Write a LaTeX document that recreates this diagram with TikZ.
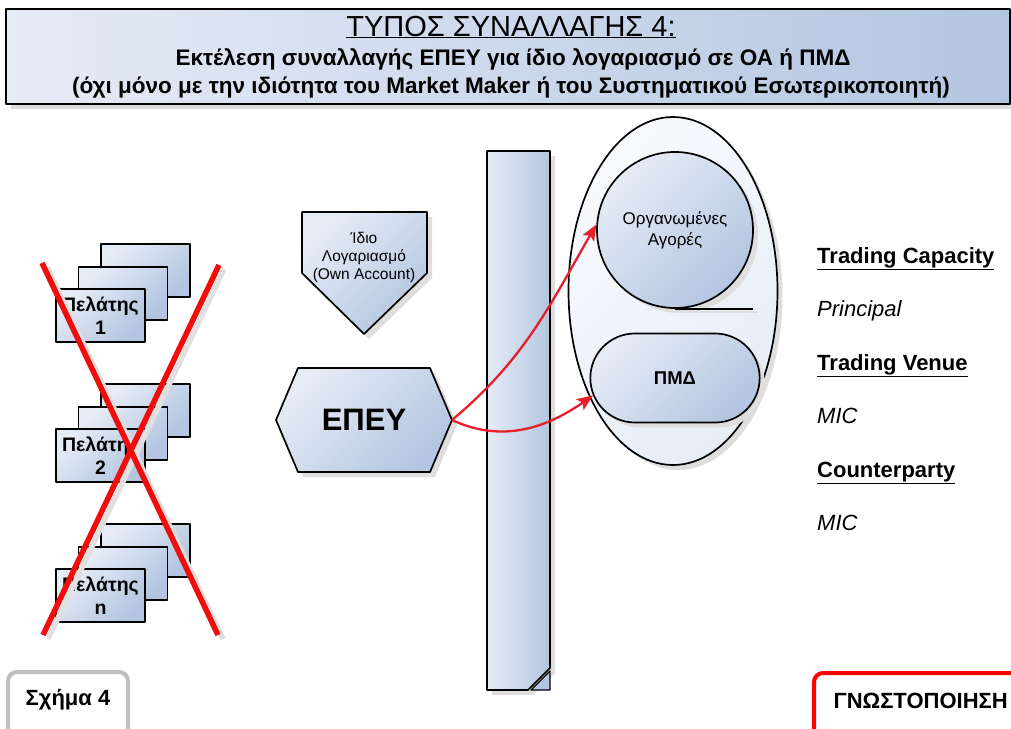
\documentclass[tikz,border=0pt]{standalone}
\usepackage{fontspec}
\setmainfont{Liberation Sans}
\usetikzlibrary{shapes.geometric,shapes.misc,shadows,arrows.meta}
\definecolor{boxlight}{HTML}{E6ECF6}
\definecolor{boxdark}{HTML}{B3C5E0}
\definecolor{elllight}{HTML}{F8FAFD}
\definecolor{elldark}{HTML}{E6EDF7}
\definecolor{xred}{HTML}{F20D0D}
\definecolor{arrred}{HTML}{E6202A}
\definecolor{framegray}{HTML}{BFBFBF}
\tikzset{
  gradbox/.style={draw=black,line width=1.7pt,top color=boxlight,bottom color=boxdark,shading angle=45},
  headbox/.style={draw=black,line width=2pt,left color=boxlight,right color=boxdark},
  shd/.style={drop shadow={shadow xshift=5pt,shadow yshift=-5pt,fill=black!13,opacity=1}},
  clientbox/.style={gradbox,minimum width=89pt,minimum height=53pt,inner sep=1pt},
  redarrow/.style={draw=arrred,line width=2.3pt,-{Stealth[length=16pt,width=13pt,inset=3.5pt]}},
  crossline/.style={draw=xred,line width=5.5pt},
  crossshd/.style={draw=black!12,line width=5.5pt},
  sidetxt/.style={anchor=base west,inner sep=0pt,font=\fontsize{22}{26}\selectfont},
}
\begin{document}
\begin{tikzpicture}[x=1pt,y=-1pt,line join=round]
\useasboundingbox (0,0) rectangle (1011,728);
\clip (0,0) rectangle (1011,728);
% header
\node[headbox,shd,anchor=north west,minimum width=1004pt,minimum height=95pt] (head) at (5,8) {};
\node[anchor=base,font=\fontsize{29}{34}\selectfont] (ttl) at (511,36) {\underline{ΤΥΠΟΣ ΣΥΝΑΛΛΑΓΗΣ 4:}};
\node[anchor=base,font=\fontsize{22.5}{27}\selectfont\bfseries] (sub1) at (513,65) {Εκτέλεση συναλλαγής ΕΠΕΥ για ίδιο λογαριασμό σε ΟΑ ή ΠΜΔ};
\node[anchor=base,font=\fontsize{22.5}{27}\selectfont\bfseries] (sub2) at (511,93) {(όχι μόνο με την ιδιότητα του Market Maker ή του Συστηματικού Εσωτερικοποιητή)};
% clients
\foreach \t/\lab in {289/1,429/2,569/n}{
  \node[clientbox] (back\lab) at (145.5,\t-18.5) {};
  \node[clientbox] (mid\lab) at (123,\t+4.5) {};
  \node[clientbox,align=center,font=\fontsize{19.5}{23}\selectfont\bfseries] (cl\lab) at (100.5,\t+26.5) {Πελάτης\\\lab};
}
% cross
\draw[crossshd] (47,267) -- (223,639);
\draw[crossshd] (224,269) -- (48,639);
\draw[crossline] (42,263) -- (218,635);
\draw[crossline] (219,265) -- (43,635);
% own account
\filldraw[gradbox,shd] (302,212) -- (427,212) -- (427,273) -- (364,334) -- (302,273) -- cycle;
\node[align=center,font=\fontsize{15.5}{18}\selectfont] (own) at (364,257) {Ίδιο\\Λογαριασμό\\(Own Account)};
% firm
\filldraw[gradbox,shd] (276,420) -- (298,368) -- (430,368) -- (452,420) -- (430,472) -- (298,472) -- cycle;
\node[font=\fontsize{31}{36}\selectfont\bfseries] (epey) at (364,420) {ΕΠΕΥ};
\coordinate (epeyR) at (452,420);
% bar
\filldraw[gradbox,shading angle=90,shd] (487,151) -- (550,151) -- (550,668) -- (528,690) -- (487,690) -- cycle;
\filldraw[draw=black,line width=1.2pt,fill=boxdark] (531,690) -- (550,671) -- (550,690) -- cycle;
% markets
\node[ellipse,draw=black,line width=1.7pt,top color=elllight,bottom color=elldark,shading angle=45,shd,minimum width=209pt,minimum height=348pt] (mkt) at (673,291) {};
\draw[black!13,line width=1.7pt] (680,312) -- (758,312);
\node[circle,gradbox,shd,minimum size=156pt,align=center,font=\fontsize{17}{21}\selectfont] (oa) at (675,230) {Οργανωμένες\\Αγορές};
\draw[line width=1.7pt] (oa.south) -- ++(78,0);
\node[rounded rectangle,gradbox,shd,minimum width=176pt,minimum height=89pt,font=\fontsize{18.5}{22}\selectfont\bfseries] (pmd) at (675,378) {ΠΜΔ};
% arrows
\draw[redarrow] (epeyR) to[out=40,in=240] (oa.176);
\draw[redarrow] (epeyR) to[out=-25,in=215] (pmd.192);
% side text
\foreach \yb/\txt in {263/\textbf{\underline{Trading Capacity}},316/\textit{Principal},370/\textbf{\underline{Trading Venue}},423/\textit{MIC},477/\textbf{\underline{Counterparty}},530/\textit{MIC}}{
  \node[sidetxt] at (817,\yb) {\txt};
}
% footer
\draw[framegray,line width=4pt,rounded corners=9pt] (8,740) -- (8,672) -- (128,672) -- (128,740);
\node[font=\fontsize{22}{26}\selectfont\bfseries] (fig) at (68,700) {Σχήμα 4};
\draw[red,line width=4pt,rounded corners=9pt] (814,740) -- (814,673) -- (1030,673);
\node[anchor=west,font=\fontsize{22}{26}\selectfont\bfseries] (notif) at (830,701) {ΓΝΩΣΤΟΠΟΙΗΣΗ};
\end{tikzpicture}
\end{document}
